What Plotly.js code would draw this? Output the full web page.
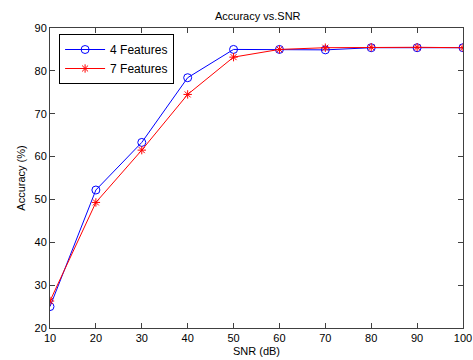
<!DOCTYPE html>
<html>
<head>
<meta charset="utf-8">
<script src="https://cdn.plot.ly/plotly-3.0.1.min.js"></script>
<style>html,body{margin:0;padding:0;background:#fff;}#chart{width:473px;height:360px;}</style>
</head>
<body>
<div id="chart"></div>
<script>
const snr = [10, 20, 30, 40, 50, 60, 70, 80, 90, 100];
const acc4 = [25.0, 52.2, 63.3, 78.4, 85.0, 85.0, 84.9, 85.4, 85.4, 85.4];
const acc7 = [26.3, 49.3, 61.5, 74.5, 83.2, 85.0, 85.4, 85.5, 85.5, 85.4];
const xTicks = [10, 20, 30, 40, 50, 60, 70, 80, 90, 100];
const yTicks = [20, 30, 40, 50, 60, 70, 80, 90];

const font = {family: 'Liberation Sans, Arial, sans-serif', size: 11, color: '#000'};
const traces = [
  {x: snr, y: acc4, name: '4 Features', mode: 'lines+markers',
   line: {color: '#0000ff', width: 1},
   marker: {symbol: 'circle-open', size: 8, color: '#0000ff', line: {width: 1, color: '#0000ff'}}},
  {x: snr, y: acc7, name: '7 Features', mode: 'lines+markers',
   line: {color: '#ff0000', width: 1},
   marker: {symbol: 'asterisk-open', size: 7, color: '#ff0000', line: {width: 1, color: '#ff0000'}}}
];
const axisCommon = {showgrid: false, zeroline: false, showline: true, mirror: 'ticks',
  linecolor: '#404040', linewidth: 1, ticks: 'inside', ticklen: 5, tickcolor: '#404040',
  tickfont: font};
const layout = {
  width: 473, height: 360,
  margin: {l: 50, r: 10, t: 28, b: 32},
  paper_bgcolor: '#fff', plot_bgcolor: '#fff',
  font: font,
  title: {text: 'Accuracy vs.SNR', font: {family: font.family, size: 11, color: '#000'}, x: 0.545, xanchor: 'center', y: 0.955, yanchor: 'middle'},
  xaxis: Object.assign({}, axisCommon, {range: [10, 100], tickvals: xTicks,
    title: {text: 'SNR (dB)', font: font, standoff: 4}}),
  yaxis: Object.assign({}, axisCommon, {range: [20, 90], tickvals: yTicks,
    title: {text: 'Accuracy (%)', font: font, standoff: 6}}),
  legend: {x: 0.022, y: 0.98, xanchor: 'left', yanchor: 'top', bgcolor: '#fff',
    bordercolor: '#000', borderwidth: 1, font: {family: font.family, size: 12, color: '#000'},
    tracegroupgap: 0, itemwidth: 40},
  showlegend: true
};
Plotly.newPlot('chart', traces, layout, {staticPlot: true, displayModeBar: false});
</script>
</body>
</html>
